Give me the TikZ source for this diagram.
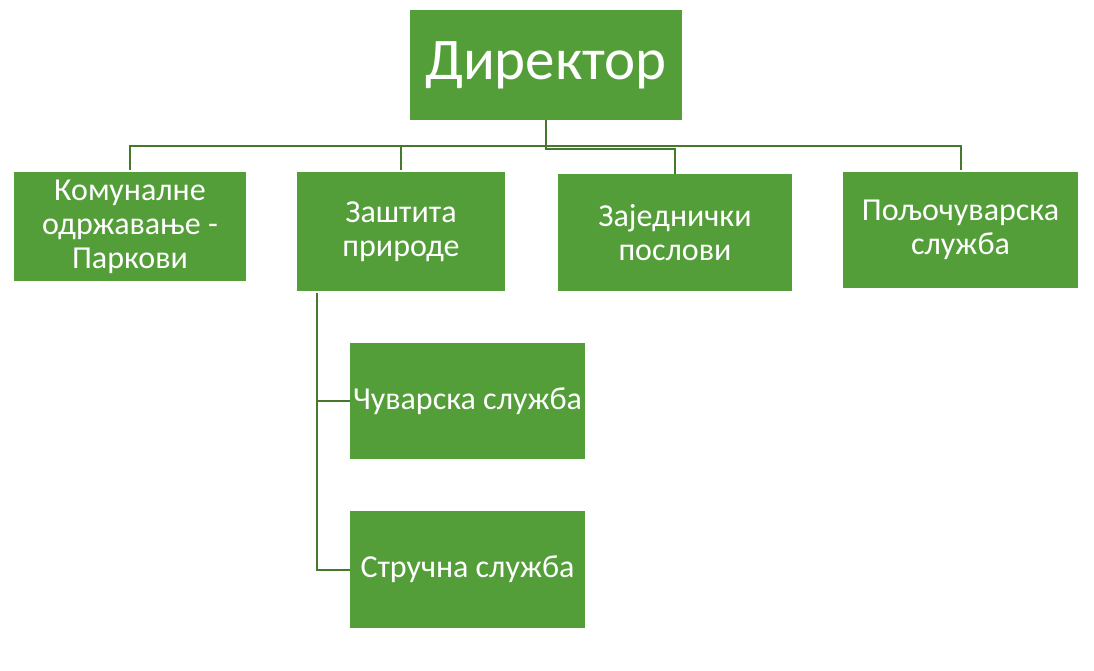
\documentclass[tikz,border=0pt]{standalone}
\usepackage{fontspec}
\setmainfont{Carlito}
\definecolor{boxgreen}{HTML}{549E39}
\definecolor{linegreen}{HTML}{457A2E}

\begin{document}
\begin{tikzpicture}[x=1pt,y=-1pt]
\useasboundingbox (0,0) rectangle (1094,670);
\begin{scope}[every node/.style={rectangle,fill=boxgreen,text=white,align=center,inner sep=0pt,
              font=\fontsize{32}{34}\selectfont}]
    \node[minimum width=272pt,minimum height=110pt,font=\fontsize{59}{66}\selectfont] (dir) at (546,65) {\raisebox{-3pt}{Директор}};
    \node[minimum width=232pt,minimum height=109pt] (kom) at (130,226.5) {Комуналне\\одржавање -\\Паркови};
    \node[minimum width=208pt,minimum height=119pt] (zas) at (401,231.5) {Заштита\\природе};
    \node[minimum width=234pt,minimum height=117pt] (zaj) at (675,232.5) {Заједнички\\послови};
    \node[minimum width=235pt,minimum height=116pt] (pol) at (960.5,230) {Пољочуварска\\служба};
    \node[minimum width=235pt,minimum height=116pt] (cuv) at (467.5,401) {Чуварска служба};
    \node[minimum width=235pt,minimum height=117pt] (str) at (467.5,569.5) {Стручна служба};
\end{scope}

\begin{scope}[every path/.style={draw=linegreen,line width=2pt}]
    \coordinate (spine) at (317,293);
    \draw (dir.south) -- ++(0,26) -| ([yshift=2pt]kom.north);
    \draw (dir.south) -- ++(0,26) -| ([yshift=2pt]zas.north);
    \draw (dir.south) -- ++(0,26) -| ([yshift=2pt]pol.north);
    \draw (dir.south) -- ++(0,29) -| (zaj.north);
    \draw (spine) |- (cuv.west);
    \draw (spine) |- (str.west);
\end{scope}
\end{tikzpicture}
\end{document}
